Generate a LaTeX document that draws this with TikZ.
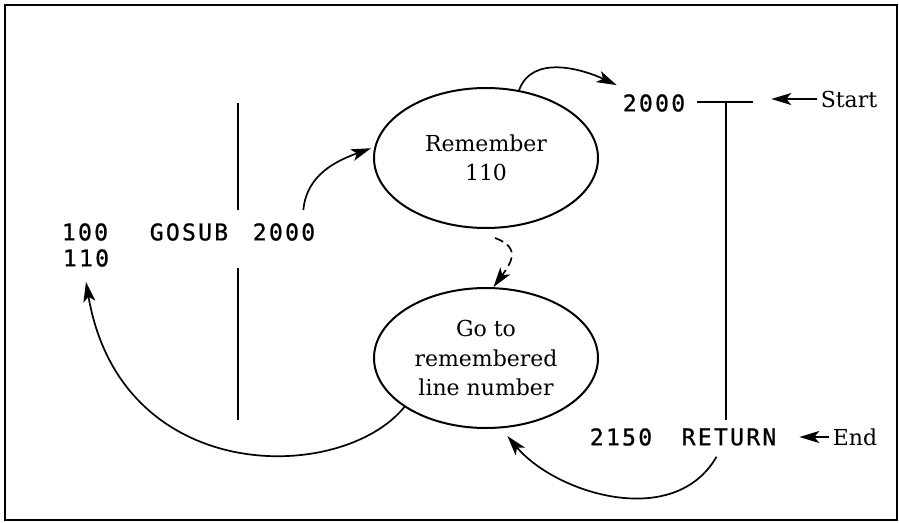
\documentclass[tikz,border=0pt]{standalone}
\usepackage{fontspec}
\newfontfamily\codefont[LetterSpace=10,FakeBold=1]{DejaVu Sans Mono}
\newfontfamily\labelfont{DejaVu Serif}
\usetikzlibrary{arrows.meta,shapes.geometric,calc}
\begin{document}
\begin{tikzpicture}[x=1pt,y=1pt,
  code/.style={font=\codefont\fontsize{23}{27}\selectfont, inner sep=0pt},
  serif/.style={font=\labelfont\fontsize{22}{29}\selectfont},
  bubble/.style={ellipse, draw, line width=2pt, minimum width=224pt, minimum height=140pt,
    inner sep=0pt, align=center, font=\labelfont\fontsize{22}{29.5}\selectfont},
  conn/.style={line width=1.7pt, -{Stealth[length=20pt,width=12pt,inset=5pt]}},
  rule/.style={line width=1.2pt}]
\useasboundingbox (0,0) rectangle (899,-522);
\draw[line width=2.5pt] (5,-5) rectangle (897,-520);

% code text
\node[code] (n100) at (85,-232) {100};
\node[code] (n110) at (86,-258) {110};
\node[code] (gosub) at (189,-232) {GOSUB};
\node[code] (g2000) at (284,-232) {2000};
\node[code] (s2000) at (654,-103) {2000};
\node[code] (n2150) at (621,-437) {2150};
\node[code] (ret) at (729,-437) {RETURN};
\node[serif] (start) at (849,-99) {Start};
\node[serif] (end) at (855,-437) {End};

% ellipses
\node[bubble] (e1) at (486,-158) {Remember\\110};
\node[bubble] (e2) at (486,-358) {Go to\\remembered\\line number};

% rules
\coordinate (la) at (238,-103);
\coordinate (lb) at (238,-210);
\coordinate (lc) at (238,-268);
\coordinate (ld) at (238,-420);
\draw[rule] (la) -- (lb);
\draw[rule] (lc) -- (ld);
\coordinate (ha) at (697,-102);
\coordinate (hb) at (753,-102);
\coordinate (va) at (726,-102);
\coordinate (vb) at (726,-420);
\draw[rule] (ha) -- (hb);
\draw[rule] (va) -- (vb);

% start / end arrows
\draw[conn] (start.west) -- ++(-46,0);
\draw[conn] (end.west) -- ++(-30,0);

% connectors
\draw[conn] ($(g2000.north east)+(-12,13)$) to[out=85,in=200] ([xshift=-3pt]e1.175);
\draw[conn] (e1.64) to[out=70,in=155] ($(s2000.north west)+(-6,9)$);
\draw[conn, dash pattern=on 9pt off 5pt] ($(e1.south)+(9,-9)$) .. controls +(28,-10) and +(16,22) .. (e2.84);
\draw[conn] (e2.211) .. controls +(-63,-77) and +(35,-205) .. ($(n110.south)+(0,-15)$);
\draw[conn, shorten >=10pt] ($(ret.south west)+(35,-11)$) to[out=240,in=-50] (e2.-78);
\end{tikzpicture}
\end{document}
